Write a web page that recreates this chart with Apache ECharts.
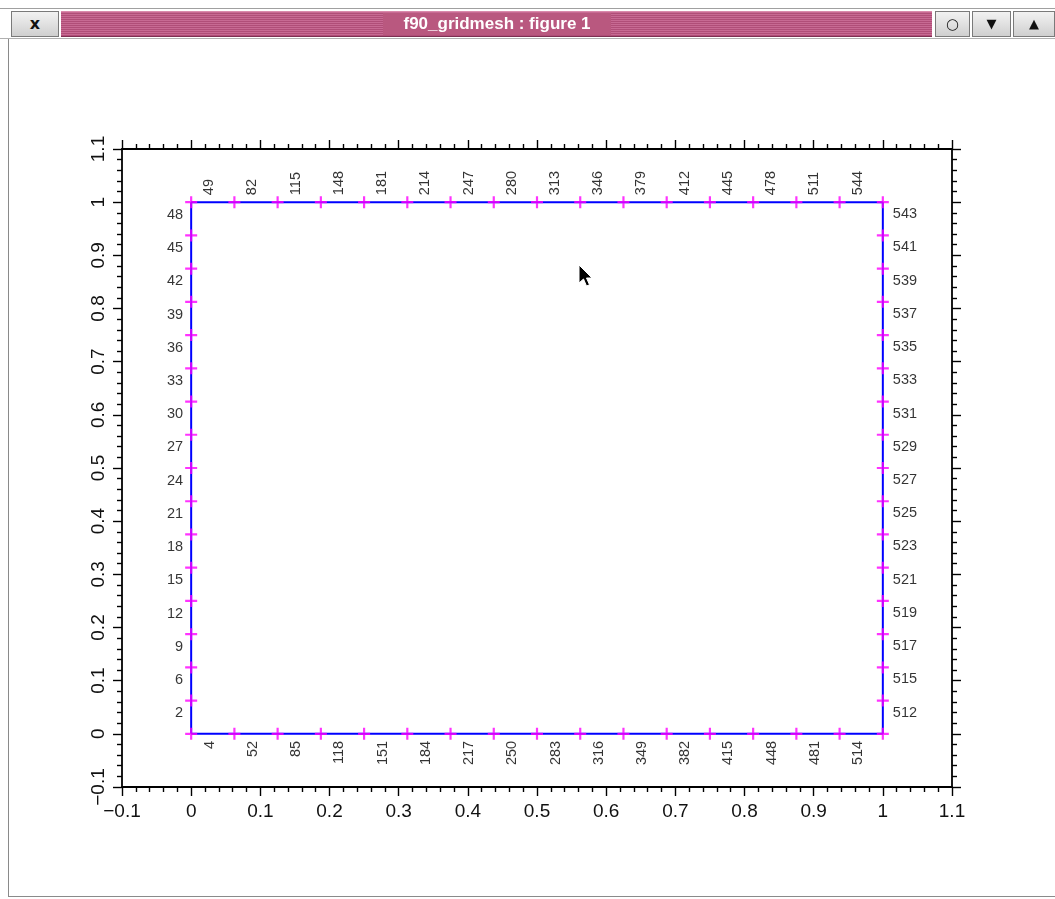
<!DOCTYPE html>
<html>
<head>
<meta charset="utf-8">
<script src="https://cdn.jsdelivr.net/npm/echarts@6/dist/echarts.min.js"></script>
<style>
html,body{margin:0;padding:0;background:#fff;width:1055px;height:899px;overflow:hidden;}
#chart{position:absolute;left:0;top:0;width:1055px;height:899px;}
.cr{position:absolute;box-sizing:border-box;}
.btn{background:linear-gradient(#f2f2f2,#cfcfcf);border:1px solid #7a7a7a;font-family:"DejaVu Sans",sans-serif;font-weight:bold;color:#111;text-align:center;}
#title{background:repeating-linear-gradient(to bottom,#c76a93 0px,#c76a93 1px,#b04e78 1px,#b04e78 2px);border-top:1px solid #d98aab;border-bottom:1px solid #7d3052;}
#title span{position:absolute;left:322px;top:1px;width:228px;height:22px;background:#b9587f;color:#fff;font:bold 17px "Liberation Sans Narrow","Liberation Sans",sans-serif;line-height:22px;text-align:center;}
</style>
</head>
<body>
<div id="chart"></div>
<div class="cr" style="left:0;top:8px;width:1055px;height:1px;background:#a0a0a0"></div>
<div class="cr btn" style="left:11px;top:11px;width:48px;height:26px;font-size:16px;line-height:24px;">x</div>
<div class="cr" id="title" style="left:61px;top:11px;width:871px;height:26px;"><span>f90_gridmesh : figure 1</span></div>
<div class="cr btn" style="left:935px;top:11px;width:35px;height:26px;font-size:15px;line-height:24px;font-weight:normal;">○</div>
<div class="cr btn" style="left:972px;top:11px;width:39px;height:26px;font-size:13px;line-height:24px;">▼</div>
<div class="cr btn" style="left:1013px;top:11px;width:42px;height:26px;font-size:13px;line-height:24px;">▲</div>
<div class="cr" style="left:0;top:38px;width:1055px;height:1px;background:#b0b0b0"></div>
<div class="cr" style="left:8px;top:39px;width:1px;height:858px;background:#8a8a8a"></div>
<div class="cr" style="left:8px;top:896px;width:1047px;height:1px;background:#8a8a8a"></div>
<svg class="cr" style="left:578px;top:264px" width="16" height="26" viewBox="0 0 16 26">
<path d="M1,1 L1,19 L5.5,15 L8.5,22 L11.5,20.8 L8.5,14 L14,14 Z" fill="#000" stroke="#fff" stroke-width="1"/>
</svg>
<script>
// ---- data ----
const nodePos = [0, 0.0625, 0.125, 0.1875, 0.25, 0.3125, 0.375, 0.4375, 0.5,
                 0.5625, 0.625, 0.6875, 0.75, 0.8125, 0.875, 0.9375, 1];
const bottomLabels = ['4','52','85','118','151','184','217','250','283','316','349','382','415','448','481','514'];
const topLabels = ['49','82','115','148','181','214','247','280','313','346','379','412','445','478','511','544'];
const leftLabels = ['2','6','9','12','15','18','21','24','27','30','33','36','39','42','45','48'];
const rightLabels = ['512','515','517','519','521','523','525','527','529','531','533','535','537','539','541','543'];
const axisMin = -0.1, axisMax = 1.1, axisStep = 0.1;
const xTickLabels = ['\u22120.1','0','0.1','0.2','0.3','0.4','0.5','0.6','0.7','0.8','0.9','1','1.1'];
const yTickLabels = ['\u22120.1','0','0.1','0.2','0.3','0.4','0.5','0.6','0.7','0.8','0.9','1','1.1'];

// ---- build ----
const lo = nodePos[0], hi = nodePos[nodePos.length - 1];
const boundary = [];
nodePos.forEach(x => boundary.push([x, lo]));
nodePos.slice(1).forEach(y => boundary.push([hi, y]));
nodePos.slice(0, -1).reverse().forEach(x => boundary.push([x, hi]));
nodePos.slice(0, -1).reverse().forEach(y => boundary.push([lo, y]));
const markers = boundary.slice(0, -1);

const bottomData = nodePos.slice(0, 16).map((x, i) => ({value: [x, lo], name: bottomLabels[i]}));
const topData = nodePos.slice(0, 16).map((x, i) => ({value: [x, hi], name: topLabels[i]}));
const leftData = nodePos.slice(1).map((y, i) => ({value: [lo, y], name: leftLabels[i]}));
const rightData = nodePos.slice(1).map((y, i) => ({value: [hi, y], name: rightLabels[i]}));

const tickFmt = arr => v => arr[Math.round((v - axisMin) / axisStep)] || '';
const FONT = '"Liberation Sans", Arial, sans-serif';

function axis(dim, pos, showLabel, labels) {
  const a = {
    type: 'value', position: pos, min: axisMin, max: axisMax, interval: axisStep,
    axisLine: {show: true, onZero: false, lineStyle: {color: '#000', width: 1.8}},
    axisTick: {show: true, inside: false, length: 9, lineStyle: {color: '#000', width: 1.4}},
    minorTick: {show: true, splitNumber: 5, length: 5, lineStyle: {color: '#000', width: 1.4}},
    splitLine: {show: false}, minorSplitLine: {show: false},
    axisLabel: {show: showLabel, formatter: tickFmt(labels), color: '#111', fontFamily: FONT, fontSize: 19, margin: 15}
  };
  if (dim === 'y') { a.axisLabel.rotate = 90; a.axisLabel.margin = 14; }
  return a;
}

const labelSeries = (data, lbl) => ({
  type: 'scatter', data, symbolSize: 1, silent: true,
  itemStyle: {color: 'rgba(0,0,0,0)'},
  label: Object.assign({show: true, position: 'inside', formatter: '{b}', color: '#000', fontFamily: FONT, fontSize: 14.5}, lbl),
  emphasis: {disabled: true}, z: 5
});

const chart = echarts.init(document.getElementById('chart'), null, {renderer: 'canvas'});
chart.setOption({
  animation: false,
  backgroundColor: 'transparent',
  grid: {left: 122, top: 149, right: 103, bottom: 112, containLabel: false, outerBoundsMode: 'none'},
  xAxis: [axis('x', 'bottom', true, xTickLabels), axis('x', 'top', false, xTickLabels)],
  yAxis: [axis('y', 'left', true, yTickLabels), axis('y', 'right', false, yTickLabels)],
  series: [
    {type: 'line', data: boundary, symbol: 'none', silent: true, lineStyle: {color: '#0000ff', width: 2}, z: 2},
    {type: 'scatter', data: markers, silent: true, symbol: 'path://M9,0H13V9H22V13H13V22H9V13H0V9H9Z',
     symbolSize: 12, itemStyle: {color: '#ff00ff'}, z: 3},
    labelSeries(bottomData, {rotate: 90, align: 'right', verticalAlign: 'middle', offset: [-7, 18.5]}),
    labelSeries(topData, {rotate: 90, align: 'left', verticalAlign: 'middle', offset: [7, 18]}),
    labelSeries(leftData, {align: 'right', verticalAlign: 'middle', offset: [-8, 12.7]}),
    labelSeries(rightData, {align: 'left', verticalAlign: 'middle', offset: [10, 12]})
  ]
});
</script>
</body>
</html>
